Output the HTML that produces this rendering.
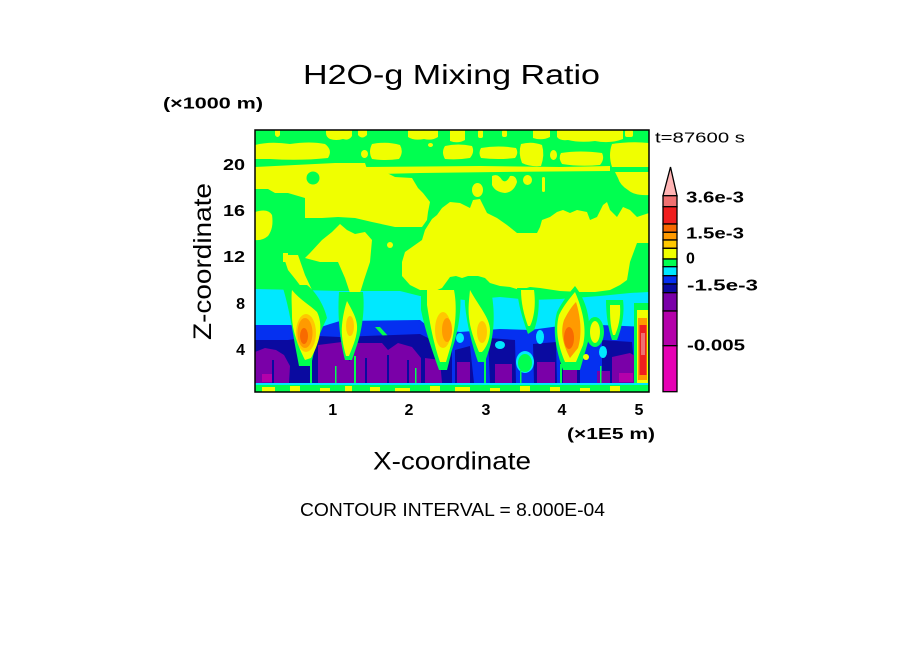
<!DOCTYPE html>
<html><head><meta charset="utf-8"><style>
html,body{margin:0;padding:0;background:#fff;}
svg{display:block;}
text{font-family:"Liberation Sans",sans-serif;fill:#000;}
</style></head><body>
<svg width="904" height="654" viewBox="0 0 904 654" xmlns="http://www.w3.org/2000/svg">
<defs><clipPath id="c"><rect x="255" y="130" width="394" height="262"/></clipPath></defs>
<g clip-path="url(#c)">
<rect x="255" y="130" width="394" height="262" fill="#00FF50"/>
<!-- cyan band -->
<path fill="#00E8FF" d="M255,289L300,290L340,291L400,291L420,296L445,298L465,300L500,297L530,300L560,299L600,296L630,293L649,292L649,392L255,392Z"/>
<g fill="#F0FF00">
<path d="M275,130H280V135Q277.5,139 275,135Z"/>
<path d="M326,130H352V136Q349,141 343,139Q336,141 330,139Q326,137 326,133Z"/>
<path d="M358,130H367V135Q362,140 358,135Z"/>
<path d="M408,130H438V137Q432,141 424,139Q414,141 408,137Z"/>
<path d="M450,130H465V140Q458,144 450,141Z"/>
<rect x="478" y="130" width="5" height="8" rx="2"/>
<rect x="502" y="130" width="5" height="7" rx="2"/>
<path d="M533,130H550V137Q542,141 533,138Z"/>
<path d="M557,130H623V139Q610,144 595,141Q580,143 568,140Q560,141 557,137Z"/>
<rect x="625" y="130" width="8" height="7" rx="2"/>
<path d="M255,145Q270,141 290,144Q310,141 325,144Q333,150 328,158Q300,161 270,159L255,159Z"/>
<ellipse cx="364.5" cy="154" rx="3.5" ry="4"/>
<path d="M372,144Q387,141 400,145Q404,152 399,159Q385,161 372,159Q368,152 372,144Z"/>
<ellipse cx="430.5" cy="145" rx="2.5" ry="2"/>
<path d="M445,146Q458,143 472,146Q475,152 470,158Q458,160 445,159Q441,152 445,146Z"/>
<path d="M481,148Q498,145 516,148Q519,153 515,158Q498,160 481,158Q478,153 481,148Z"/>
<path d="M521,144Q532,141 542,145Q545,155 541,166Q530,167 522,163Q518,153 521,144Z"/>
<ellipse cx="553.5" cy="155" rx="3.5" ry="5"/>
<path d="M561,153Q580,150 602,153Q605,159 600,165Q580,167 562,164Q558,158 561,153Z"/>
<path d="M612,144Q630,141 649,143V167H612Q608,155 612,144Z"/>
<path d="M365,167L480,166L560,167L610,166L610,171L500,172L420,173L380,174L365,172Z"/>
<path d="M255,167L335,163L365,163L367,169L385,172L395,177L412,178L418,188L423,193L430,202L428,212L427,220L422,227L395,227L372,222L355,218L338,217L322,218L305,218L305,198L288,193L275,193L268,189L255,189Z"/>
<path d="M492,176Q498,173 502,180Q506,184 510,176Q516,175 517,182Q514,192 505,193Q495,192 492,185Z"/>
<ellipse cx="527.5" cy="180" rx="4.5" ry="5"/>
<rect x="542" y="177" width="3" height="15" rx="1.5"/>
<ellipse cx="477.5" cy="190" rx="5.5" ry="7"/>
<path d="M615,172L649,172L649,195Q635,196 628,190Q620,185 618,178Z"/>
<path d="M255,212Q268,208 272,215Q274,228 268,236Q262,241 255,240Z"/>
<rect x="283" y="253" width="5" height="9"/>
<path d="M305,258L310,253L322,240L332,232L340,224L347,230L355,234L365,232L372,240L370,262L364,280L360,293L350,293L345,278L338,262L320,262Z"/>
<circle cx="390" cy="245" r="3"/>
<path d="M283,255L298,255L305,275L312,290L305,292L296,280L288,270Z"/>
<path d="M402,262L405,252L422,240L425,230L432,219L437,215L442,208L450,202L460,203L470,208L473,200L480,199L483,205L487,213L497,218L507,225L517,233L537,233L540,227L542,220L550,217L557,212L563,210L570,213L577,210L587,212L590,220L597,217L603,205L607,202L610,210L617,217L623,207L630,210L637,217L649,213L649,243L637,243L630,262L627,280L620,285L610,290L595,292L580,292L560,291L540,288L530,287L520,290L510,287L500,286L490,283L485,278L478,276L468,276L462,278L456,276L450,277L442,288L435,291L420,290L410,285L402,276Z"/>
</g>
<ellipse cx="313" cy="178" rx="6.5" ry="6.5" fill="#00FF50"/>
<!-- blue layers -->
<path fill="#0530F0" d="M255,325L290,325L318,328L330,324L340,321L420,320L430,328L460,332L500,329L530,330L560,326L600,325L649,327L649,386L255,386Z"/>
<path fill="#00FF50" d="M375,327L380,327L398,347L393,347Z"/>
<path fill="#0A0AA0" d="M255,340L288,340L318,336L340,337L420,334L440,344L452,346L452,385L255,385Z"/>
<g fill="#0A0AA0">
<path d="M455,350L470,346L474,383L455,383Z"/>
<path d="M488,338L515,340L516,383L490,383Z"/>
<path d="M533,344L556,342L557,383L534,383Z"/>
<path d="M560,358L580,360L580,383L560,383Z"/>
<path d="M602,340L632,342L636,383L602,383Z"/>
</g>
<g fill="#00E8FF">
<ellipse cx="500" cy="345" rx="5" ry="4"/>
<ellipse cx="540" cy="337" rx="4" ry="7"/>
<ellipse cx="603" cy="352" rx="4" ry="6"/>
<ellipse cx="525" cy="362" rx="9" ry="11"/>
<ellipse cx="460" cy="338" rx="4" ry="5"/>
</g>
<ellipse cx="525" cy="363" rx="7" ry="9" fill="#00FF50"/>
<g fill="#7A00A8">
<path d="M255,352L265,348L276,350L284,355L290,366L289,383L255,383Z"/>
<path d="M318,345L342,342L345,358L350,361L355,343L382,343L388,350L398,343L412,347L421,358L421,383L318,383Z"/>
<path d="M425,358L440,360L442,383L425,383Z"/>
<rect x="457" y="362" width="13" height="21"/>
<rect x="495" y="364" width="17" height="19"/>
<rect x="537" y="362" width="18" height="21"/>
<rect x="563" y="369" width="14" height="14"/>
<rect x="597" y="371" width="13" height="12"/>
<path d="M612,357L630,353L637,357L637,383L612,383Z"/>
</g>
<g fill="#B400AA">
<rect x="262" y="374" width="12" height="8"/>
<rect x="619" y="373" width="14" height="9"/>
</g>
<g fill="#0A0AA0">
<rect x="365" y="358" width="2" height="25"/>
<rect x="387" y="355" width="2" height="28"/>
<rect x="407" y="360" width="2" height="23"/>
<rect x="272" y="360" width="2" height="23"/>
</g>
<!-- plume envelopes -->
<g fill="#00FF50">
<path d="M282,285C287,300 291,320 295,345L299,366L311,366C315,345 321,330 327,318C324,305 316,292 307,285Z"/>
<path d="M339,292L363,292C365,310 362,330 357,345L352,360L345,360C341,345 337,320 339,292Z"/>
<path d="M421,290L460,290C462,310 458,332 452,350L447,370L439,370C432,350 425,330 421,310Z"/>
<path d="M464,280L490,286C496,310 494,335 489,350L485,362L478,362C472,345 467,325 465,305Z"/>
<path d="M517,288L538,288C540,305 538,320 534,330L528,334C523,320 518,305 517,288Z"/>
<path d="M575,286C586,300 592,320 588,342L580,370L563,370C556,350 552,330 557,312C563,300 570,292 575,286Z"/>
<ellipse cx="595" cy="332" rx="9" ry="15"/>
<path d="M606,300L623,300C625,315 621,330 617,340L612,340C608,328 606,315 606,300Z"/>
<rect x="634" y="303" width="15" height="85"/>
</g>
<g fill="#F0FF00">
<path d="M292,290C300,300 310,305 317,312C323,324 321,340 311,358L305,360C298,346 292,330 292,316C292,305 291,297 292,290Z"/>
<path d="M347,301C353,312 358,320 357,330C356,340 352,348 349,356L346,356C343,345 341,335 342,325C343,315 345,307 347,301Z"/>
<path d="M427,290L454,290C457,305 456,325 451,345L446,362L440,362C434,345 430,325 427,305Z"/>
<path d="M470,290C478,305 490,318 490,330C490,340 486,348 482,352L479,352C474,340 470,328 469,318C468,308 469,300 470,290Z"/>
<path d="M521,290L534,290C536,305 534,318 530,326L528,326C524,315 521,303 521,290Z"/>
<path d="M575,292C583,310 587,330 583,345L576,362L565,362C558,345 555,330 559,315C564,305 570,298 575,292Z"/>
<ellipse cx="595" cy="332" rx="5" ry="11"/>
<path d="M610,305L620,305C621,318 618,328 615,335L613,335C610,325 610,315 610,305Z"/>
<rect x="637" y="310" width="11" height="75"/>
<circle cx="586" cy="357" r="3"/>
</g>
<g fill="#FFC800">
<ellipse cx="306" cy="333" rx="10" ry="19"/>
<ellipse cx="350" cy="326" rx="4" ry="10"/>
<ellipse cx="443" cy="330" rx="8" ry="18"/>
<ellipse cx="482" cy="332" rx="5" ry="11"/>
</g>
<g fill="#FF9A00">
<ellipse cx="305" cy="333" rx="7.5" ry="15"/>
<ellipse cx="447" cy="330" rx="5" ry="12"/>
<path d="M576,302C581,318 582,335 578,348L570,358C563,345 560,332 564,320C568,312 572,306 576,302Z"/>
<rect x="638" y="318" width="9" height="62"/>
</g>
<g fill="#F86A00">
<ellipse cx="304" cy="336" rx="4" ry="8"/>
<ellipse cx="569" cy="338" rx="5" ry="11"/>
</g>
<rect x="639.5" y="325" width="7" height="50" fill="#F01E1E"/>
<rect x="641" y="333" width="4" height="22" fill="#F07070"/>
<!-- vertical specks -->
<g fill="#00FF50">
<rect x="310" y="360" width="2" height="24"/>
<rect x="335" y="366" width="1.5" height="18"/>
<rect x="354" y="356" width="2" height="28"/>
<rect x="415" y="368" width="1.5" height="16"/>
<rect x="484" y="350" width="2" height="34"/>
<rect x="520" y="370" width="1.5" height="14"/>
<rect x="560" y="364" width="2" height="20"/>
<rect x="600" y="366" width="1.5" height="18"/>
</g>
<!-- bottom strip -->
<rect x="255" y="383" width="394" height="9" fill="#00FF50"/>
<rect x="255" y="383" width="394" height="2" fill="#00E8FF"/>
<g fill="#F0FF00">
<rect x="262" y="387" width="13" height="5"/>
<rect x="290" y="386" width="10" height="6"/>
<rect x="320" y="388" width="10" height="4"/>
<rect x="345" y="386" width="7" height="6"/>
<rect x="370" y="387" width="10" height="5"/>
<rect x="395" y="388" width="15" height="4"/>
<rect x="430" y="386" width="10" height="6"/>
<rect x="455" y="387" width="15" height="5"/>
<rect x="490" y="388" width="10" height="4"/>
<rect x="520" y="386" width="10" height="6"/>
<rect x="550" y="387" width="10" height="5"/>
<rect x="580" y="388" width="10" height="4"/>
<rect x="610" y="386" width="10" height="6"/>
</g>
</g>
<rect x="255" y="130" width="394" height="262" fill="none" stroke="#000" stroke-width="1.5"/>

<!-- colorbar -->
<g stroke="#000" stroke-width="1.3">
<path d="M670.5,167L677,195.7L663,195.7Z" fill="#FFB4B4"/>
<rect x="663" y="195.7" width="14" height="11" fill="#F07070"/>
<rect x="663" y="206.7" width="14" height="17.3" fill="#F01E1E"/>
<rect x="663" y="224" width="14" height="8.3" fill="#F86A00"/>
<rect x="663" y="232.3" width="14" height="7.7" fill="#FF9A00"/>
<rect x="663" y="240" width="14" height="8.3" fill="#FFC800"/>
<rect x="663" y="248.3" width="14" height="10.7" fill="#F0FF00"/>
<rect x="663" y="259" width="14" height="7.7" fill="#00FF50"/>
<rect x="663" y="266.7" width="14" height="9" fill="#00E8FF"/>
<rect x="663" y="275.7" width="14" height="8.3" fill="#0530F0"/>
<rect x="663" y="284" width="14" height="8.7" fill="#0A0AA0"/>
<rect x="663" y="292.7" width="14" height="18.3" fill="#7A00A8"/>
<rect x="663" y="311" width="14" height="34.7" fill="#B400AA"/>
<rect x="663" y="345.7" width="14" height="46" fill="#E600B4"/>
</g>

<!-- text -->
<text x="303" y="84" font-size="28" textLength="297" lengthAdjust="spacingAndGlyphs">H2O-g Mixing Ratio</text>
<text x="163" y="108.5" font-size="16" font-weight="bold" textLength="100" lengthAdjust="spacingAndGlyphs">(×1000 m)</text>
<text x="655" y="142.3" font-size="14.5" textLength="90" lengthAdjust="spacingAndGlyphs">t=87600 s</text>

<g font-size="16" font-weight="bold" text-anchor="end">
<text x="245" y="170" textLength="22" lengthAdjust="spacingAndGlyphs">20</text>
<text x="245" y="216" textLength="22" lengthAdjust="spacingAndGlyphs">16</text>
<text x="245" y="262" textLength="22" lengthAdjust="spacingAndGlyphs">12</text>
<text x="245" y="309">8</text>
<text x="245" y="355">4</text>
</g>
<g font-size="16" font-weight="bold" text-anchor="middle">
<text x="332.7" y="415">1</text>
<text x="409" y="415">2</text>
<text x="486" y="415">3</text>
<text x="562" y="415">4</text>
<text x="639" y="415">5</text>
</g>
<text x="567" y="439" font-size="16" font-weight="bold" textLength="88" lengthAdjust="spacingAndGlyphs">(×1E5 m)</text>
<text x="373" y="469.3" font-size="25" textLength="158" lengthAdjust="spacingAndGlyphs">X-coordinate</text>
<text transform="translate(211,261.5) rotate(-90)" text-anchor="middle" font-size="25" textLength="157" lengthAdjust="spacingAndGlyphs">Z-coordinate</text>
<text x="300" y="516" font-size="18" textLength="305" lengthAdjust="spacingAndGlyphs">CONTOUR INTERVAL = 8.000E-04</text>

<g font-size="16" font-weight="bold">
<text x="686" y="202.3" textLength="58" lengthAdjust="spacingAndGlyphs">3.6e-3</text>
<text x="686" y="238.3" textLength="58" lengthAdjust="spacingAndGlyphs">1.5e-3</text>
<text x="686" y="263.3">0</text>
<text x="687" y="290.7" textLength="71" lengthAdjust="spacingAndGlyphs">-1.5e-3</text>
<text x="687" y="350.7" textLength="58" lengthAdjust="spacingAndGlyphs">-0.005</text>
</g>
</svg>
</body></html>
